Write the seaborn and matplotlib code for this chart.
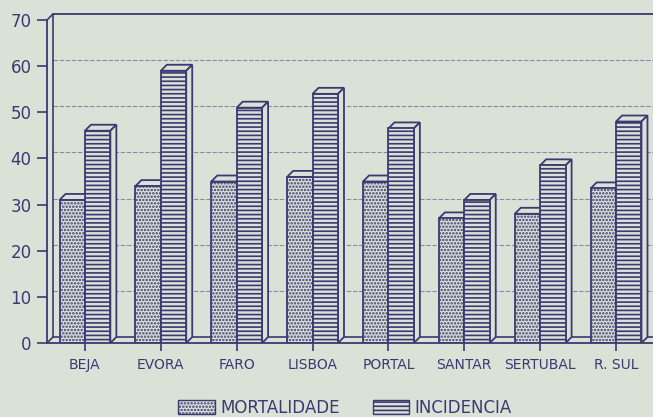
import matplotlib
matplotlib.use('Agg')
import matplotlib.pyplot as plt
import seaborn as sns
import pandas as pd
from matplotlib.patches import Polygon, Patch

categories = ['BEJA', 'EVORA', 'FARO', 'LISBOA', 'PORTAL', 'SANTAR', 'SERTUBAL', 'R. SUL']
mortalidade = [31, 34, 35, 36, 35, 27, 28, 33.5]
incidencia = [46, 59, 51, 54, 46.5, 31, 38.5, 48]
series_names = ['MORTALIDADE', 'INCIDENCIA']
y_ticks = [0, 10, 20, 30, 40, 50, 60, 70]

BG = '#dae2d7'
INK = '#3c3872'
GRID = '#8a87a8'
HATCHES = ['.....', '----']

sns.set_theme(style='ticks')
plt.rcParams['font.family'] = ['DejaVu Sans']
plt.rcParams['hatch.linewidth'] = 1.2

df = pd.DataFrame({
    'region': categories * 2,
    'value': mortalidade + incidencia,
    'serie': [series_names[0]] * len(categories) + [series_names[1]] * len(categories),
})

W, H = 653, 417
fig = plt.figure(figsize=(W / 100, H / 100), dpi=100, facecolor=BG)
ax = fig.add_axes([47 / W, 74 / H, 607 / W, 323 / H])
ax.set_facecolor(BG)

sns.barplot(data=df, x='region', y='value', hue='serie', hue_order=series_names,
            order=categories, palette=[BG, BG], saturation=1, width=0.67,
            edgecolor=INK, linewidth=1.3, ax=ax, legend=False, errorbar=None)

ax.set_xlim(-0.5, 7.5)
ax.set_ylim(0, 70)
dx = 6 * 8 / 607
dy = 6 * 70 / 323

# 3D faces
for si, cont in enumerate(ax.containers):
    base_z = 2 + si * 0.5
    for bar in cont:
        bar.set_hatch(HATCHES[si])
        bar.set_zorder(base_z + 0.2)
        x0, w, h = bar.get_x(), bar.get_width(), bar.get_height()
        top = Polygon([(x0, h), (x0 + w, h), (x0 + w + dx, h + dy), (x0 + dx, h + dy)],
                      closed=True, facecolor=BG, edgecolor=INK, lw=1.3, zorder=base_z)
        side = Polygon([(x0 + w, 0), (x0 + w + dx, dy), (x0 + w + dx, h + dy), (x0 + w, h)],
                       closed=True, facecolor=BG, edgecolor=INK, lw=1.3, zorder=base_z)
        ax.add_patch(top)
        ax.add_patch(side)

# back wall and floor
x_back = -0.5 + dx
ax.plot([x_back, x_back], [dy, 70 + dy], color=INK, lw=1.2, clip_on=False, zorder=1.5)
ax.plot([x_back, 7.5], [70 + dy, 70 + dy], color=INK, lw=1.3, clip_on=False, zorder=1.5)
ax.plot([-0.5, x_back], [70, 70 + dy], color=INK, lw=1.2, clip_on=False, zorder=1.5)
ax.plot([-0.5, x_back], [0, dy], color=INK, lw=1.2, clip_on=False, zorder=1.5)
ax.plot([x_back, 7.5], [dy, dy], color=INK, lw=1.2, clip_on=False, zorder=1.5)
for v in y_ticks[1:-1]:
    ax.plot([x_back, 7.5], [v + dy, v + dy], color=GRID, lw=0.8, ls=(0, (4, 1.5)),
            zorder=1, clip_on=False)

for s in ['top', 'right']:
    ax.spines[s].set_visible(False)
for s in ['left', 'bottom']:
    ax.spines[s].set_color(INK)
    ax.spines[s].set_linewidth(1.3)

ax.set_yticks(y_ticks)
ax.set_xlabel('')
ax.set_ylabel('')
ax.tick_params(axis='y', left=True, length=7, width=1.2, color=INK, labelcolor=INK,
               labelsize=12, pad=4)
ax.tick_params(axis='x', bottom=True, length=6, width=1.2, color=INK, labelcolor=INK,
               labelsize=10, pad=5)

handles = [Patch(facecolor=BG, edgecolor=INK, hatch=HATCHES[0], lw=1.0),
           Patch(facecolor=BG, edgecolor=INK, hatch=HATCHES[1], lw=1.0)]
fig.legend(handles, series_names, loc='center', bbox_to_anchor=(345 / W, 1 - 408 / H),
           ncol=2, frameon=False, fontsize=12, handlelength=2.2, handleheight=0.9,
           columnspacing=2.0, handletextpad=0.3, labelcolor=INK)

fig.savefig('out.png', dpi=100, facecolor=BG)
